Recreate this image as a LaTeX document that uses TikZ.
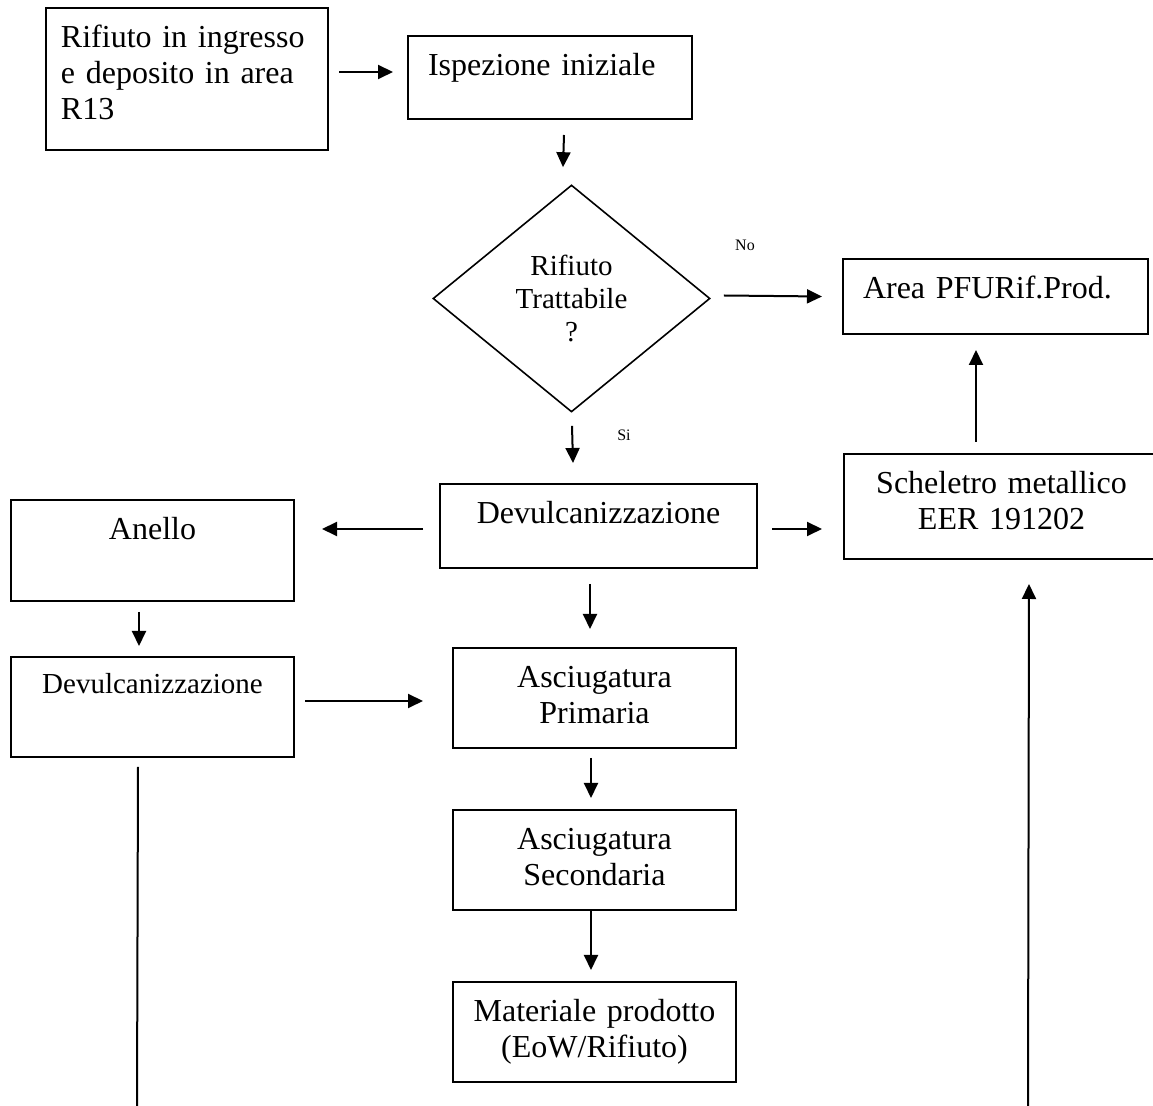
\documentclass[tikz,border=0pt]{standalone}
\usepackage{fontspec}
\setmainfont{Liberation Serif}
\usepackage{tikz}
\usetikzlibrary{arrows.meta, positioning, calc, shapes.geometric}
\tikzset{
  box/.style={draw, line width=1pt, anchor=north west, inner xsep=10pt, inner ysep=0pt, text height=20pt, align=center},
  decision/.style={draw, diamond, line width=0.8pt, minimum width=138.5pt, minimum height=113.5pt, inner sep=0pt, align=center, font=\fontsize{14.5}{16.5}\selectfont},
  tag/.style={font=\fontsize{8}{9.6}\selectfont},
  link/.style={-{Triangle[length=7.5pt, width=7pt]}, line width=1pt}
}

\begin{document}
\begin{tikzpicture}[x=0.5pt, y=-0.5pt, font=\fontsize{16}{18}\selectfont]
        % Page frame
        \useasboundingbox (0,0) rectangle (1153,1106);
        \clip (0,0) rectangle (1153,1106);

        % Boxes
        \node[box, align=left, inner xsep=7.5pt, text width=126pt, text depth=51pt] (start) at (45,7) {Rifiuto in ingresso\\e deposito in area\\R13};
        \node[box, align=left, text width=122pt, text depth=21.5pt] (isp) at (407,35) {Ispezione iniziale};
        \node[decision] (dec) at (571.5,298.5) {Rifiuto\\Trattabile\\?};
        \node[box, align=left, text width=132.5pt, text depth=17.5pt] (area) at (842,258) {Area PFURif.Prod.};
        \node[box, text width=137.5pt, text depth=32.5pt] (sch) at (843,453) {Scheletro metallico\\EER 191202};
        \node[box, text width=138.5pt, text depth=22pt] (devc) at (439,483) {Devulcanizzazione};
        \node[box, text width=121.5pt, text depth=30.5pt] (anello) at (10,499) {Anello};
        \node[box, text width=121.5pt, text height=18.5pt, text depth=31.5pt, font=\fontsize{14.5}{16.5}\selectfont] (devl) at (10,656) {Devulcanizzazione};
        \node[box, text width=121.5pt, text depth=30pt] (prim) at (452,647) {Asciugatura\\Primaria};
        \node[box, text width=121.5pt, text depth=30pt] (sec) at (452,809) {Asciugatura\\Secondaria};
        \node[box, text width=121.5pt, text depth=30pt] (mat) at (452,981) {Materiale prodotto\\(EoW/Rifiuto)};

        % Branch labels
        \node[tag] (no) at (745,245) {No};
        \node[tag] (si) at (624,435) {Si};

        % Open ends at the page edge
        \coordinate (lout) at (137,1106);
        \coordinate (rin) at (1028,1106);

        % Links
        \draw[link] ($(start.east)+(10,-7)$) -- ($(isp.west)+(-14,-5.5)$);
        \draw[link] ($(isp.south)+(14,15)$) -- ($(dec.north)+(-8.5,-17)$);
        \draw[link] ($(dec.east)+(13,-3)$) -- ($(area.west)+(-20,0)$);
        \draw[link] ($(dec.south)+(0.5,13)$) -- ($(devc.north)+(-25.5,-20)$);
        \draw[link] ($(sch.north)+(-25.5,-11)$) -- ($(area.south)+(-19.5,15)$);

        \draw[link] ($(devc.west)+(-16,3)$) -- ($(anello.east)+(27,-21.5)$);
        \draw[link] ($(devc.east)+(14,3)$) -- ($(sch.west)+(-21,22.5)$);
        \draw[link] ($(anello.south)+(-13.5,10)$) -- ($(devl.north)+(-13.5,-10)$);
        \draw[link] ($(devl.east)+(10,-6)$) -- ($(prim.west)+(-29,3)$);

        \draw[link] ($(devc.south)+(-8.5,15)$) -- ($(prim.north)+(-4.5,-18)$);
        \draw[link] ($(prim.south)+(-3.5,9)$) -- ($(sec.north)+(-3.5,-11)$);
        \draw[link] ($(sec.south)+(-3.5,0)$) -- ($(mat.north)+(-3.5,-11)$);

        \draw[line width=1pt] ($(devl.south)+(-14.5,9)$) -- (lout);
        \draw[link] (rin) -- ($(sch.south)+(27.5,24)$);
    \end{tikzpicture}
\end{document}
